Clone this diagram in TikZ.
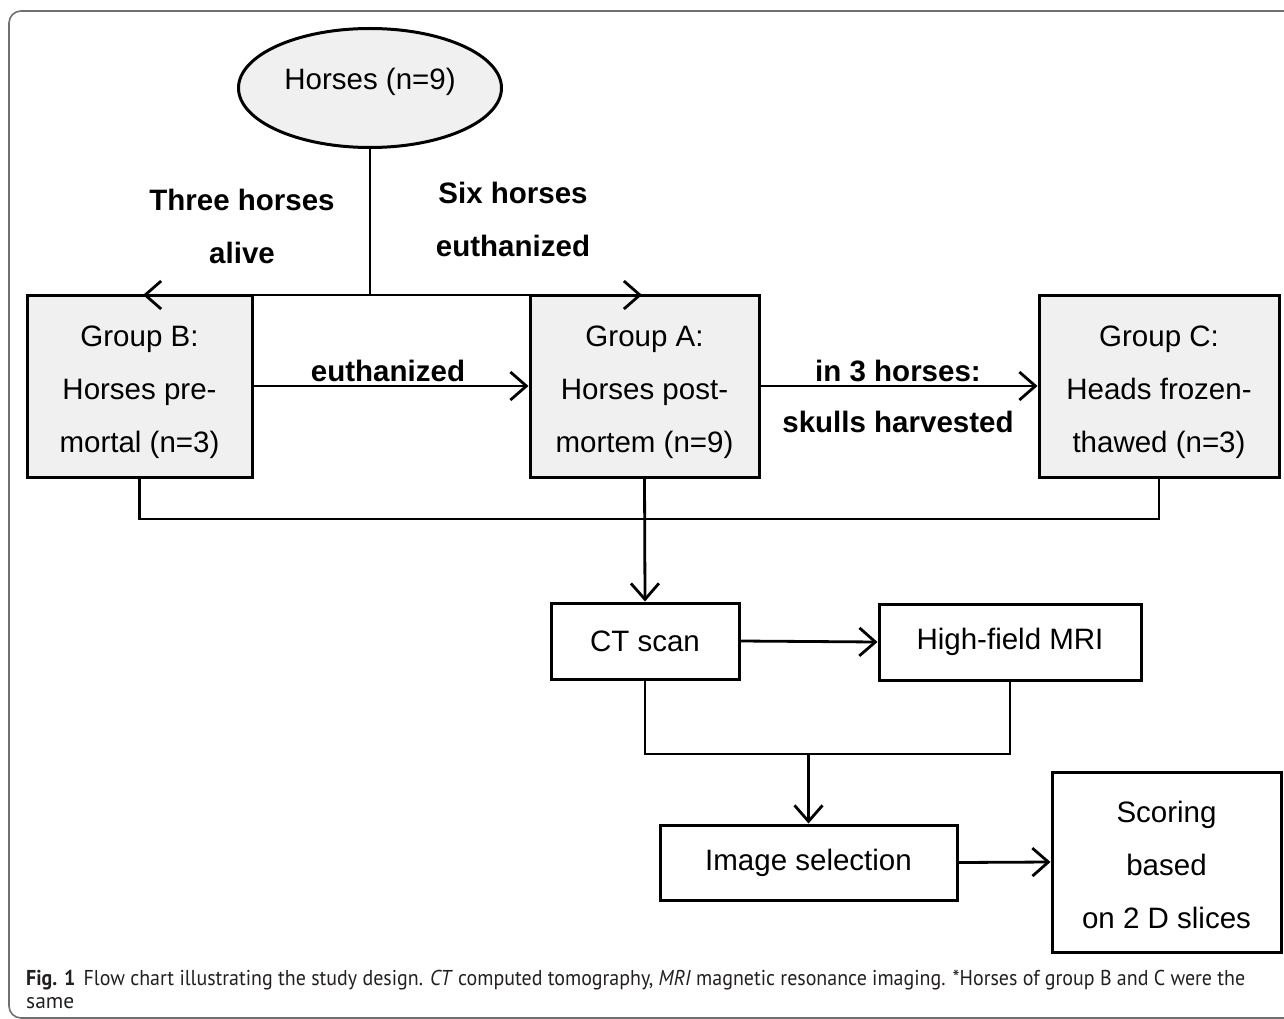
\documentclass[tikz,border=0pt]{standalone}
\usepackage{fontspec}
\setmainfont{Liberation Sans}
\newfontfamily\capfont{PT Sans}
\usetikzlibrary{arrows.meta,shapes.geometric}
\definecolor{boxgray}{HTML}{F0F0F0}
\definecolor{framegray}{HTML}{707070}
\definecolor{captext}{HTML}{231F20}
\begin{document}
\begin{tikzpicture}[x=1pt,y=-1pt,
  txt/.style={font=\fontsize{29.5}{53}\selectfont, align=center, inner sep=0pt},
  lbl/.style={font=\fontsize{29.5}{53}\selectfont\bfseries, align=center, inner sep=0pt},
  gbox/.style={draw=black, line width=3pt, fill=boxgray, rectangle, align=center,
     font=\fontsize{29.5}{53}\selectfont, inner sep=0pt},
  wbox/.style={draw=black, line width=3pt, fill=white, rectangle, align=center,
     font=\fontsize{29.5}{53}\selectfont, inner sep=0pt},
  conn/.style={draw=black, line width=2.8pt},
  arr/.style={conn, -{Straight Barb[length=16pt,width=28pt]}}
]
\useasboundingbox (0,0) rectangle (1284,1019);
% outer frame
\draw[framegray, line width=1.6pt, rounded corners=12pt] (1290,11) -- (9,11) -- (9,1018) -- (1290,1018);

% nodes
\node[ellipse, draw=black, line width=3pt, fill=boxgray, minimum width=263pt, minimum height=119pt, inner sep=0pt] (E) at (370,88) {};
\node[txt] (Et) at (370,82) {Horses (n=9)};

\node[gbox, minimum width=225pt, minimum height=182pt] (B) at (139.5,386) {\rule{0pt}{33pt}Group B:\\Horses pre-\\mortal (n=3)};
\node[gbox, minimum width=229pt, minimum height=182pt] (A) at (644.5,386) {\rule{0pt}{33pt}Group A:\\Horses post-\\mortem (n=9)};
\node[gbox, minimum width=240pt, minimum height=182pt] (C) at (1159,386) {\rule{0pt}{33pt}Group C:\\Heads frozen-\\thawed (n=3)};

\node[wbox, minimum width=188pt, minimum height=76pt] (CT) at (645,641) {CT scan};
\node[wbox, minimum width=262pt, minimum height=76pt] (MRI) at (1010,642) {High-field MRI};
\node[wbox, minimum width=297pt, minimum height=75pt] (IS) at (808.5,862.5) {Image selection};
\node[wbox, minimum width=229pt, minimum height=180pt] (SC) at (1166.5,862) {\rule{0pt}{27pt}Scoring\\based\\on 2 D slices};

% labels
\node[lbl] (l1) at (242,200) {Three horses};
\node[lbl] (l2) at (242,253) {alive};
\node[lbl] (l3) at (513,193) {Six horses};
\node[lbl] (l4) at (513,246) {euthanized};
\node[lbl] (l5) at (388,371) {euthanized};
\node[lbl] (l6) at (898,371) {in 3 horses:};
\node[lbl] (l7) at (898,422) {skulls harvested};

% connectors
\coordinate (j1) at (370,295);
\coordinate (tB) at (143,295);
\coordinate (tA) at (642,295);
\draw[conn] (E.south) -- (j1);
\draw[arr] (j1) -- (tB);
\draw[arr] (j1) -- (tA);
\draw[arr] (B.east) -- (A.west);
\draw[arr] (A.east) -- (C.west);
\coordinate (j2) at (139.5,519);
\draw[conn] (B.south) -- (j2) -| (C.south);
\draw[arr] (A.south) -- (CT.north);
\draw[arr] (CT.east) -- (MRI.west);
\coordinate (j3) at (645,754);
\draw[conn] (CT.south) -- (j3) -| (MRI.south);
\coordinate (j4) at (808.5,754);
\draw[arr] (j4) -- (IS.north);
\draw[arr] (IS.east) -- (SC.west);

% caption
\node[anchor=base west, inner sep=0pt, text=captext] (cap1) at (26,985)
  {\resizebox{1219pt}{\height}{\capfont\fontsize{21.5}{26}\selectfont\textbf{Fig. 1}\hspace{9pt}Flow chart illustrating the study design. \textit{CT} computed tomography, \textit{MRI} magnetic resonance imaging. *Horses of group B and C were the}};
\node[anchor=base west, inner sep=0pt, text=captext] (cap2) at (26,1008)
  {\capfont\fontsize{21.5}{26}\selectfont same};
\end{tikzpicture}
\end{document}
